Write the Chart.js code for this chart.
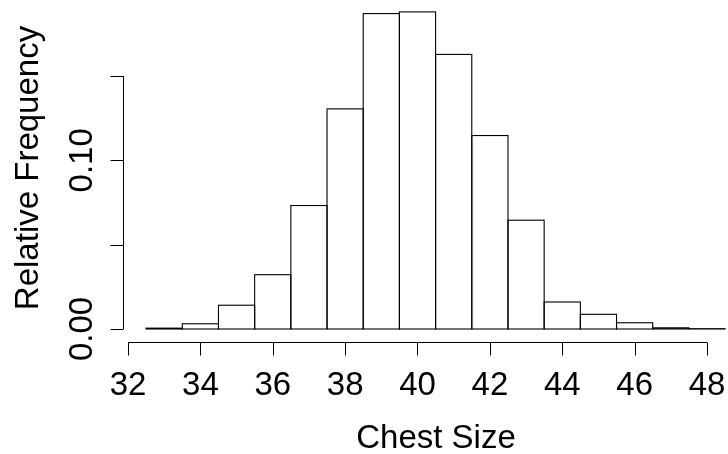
<!DOCTYPE html>
<html>
<head>
<meta charset="utf-8">
<script src="https://cdn.jsdelivr.net/npm/chart.js@4/dist/chart.umd.min.js"></script>
<style>
  html, body { margin: 0; padding: 0; background: #ffffff; }
  #wrap { width: 728px; height: 454px; }
</style>
</head>
<body>
<div id="wrap"><canvas id="c" width="728" height="454"></canvas></div>
<script>
// ---- data (Quetelet chest sizes, relative frequency per 1-inch bin) ----
const chestSizes = [33, 34, 35, 36, 37, 38, 39, 40, 41, 42, 43, 44, 45, 46, 47, 48];
const relFreq = [0.0005, 0.0031, 0.0141, 0.0322, 0.0732, 0.1305, 0.1870, 0.1880,
                 0.1628, 0.1147, 0.0645, 0.0160, 0.0087, 0.0037, 0.0007, 0.0002];
const xTicks = [32, 34, 36, 38, 40, 42, 44, 46, 48];
const xTickLabels = ["32", "34", "36", "38", "40", "42", "44", "46", "48"];
const yTicks = [0, 0.05, 0.10, 0.15];
const yLabelValues = [0, 0.10];
const yLabelTexts = ["0.00", "0.10"];
const xTitle = "Chest Size";
const yTitle = "Relative Frequency";

// ---- layout (pixel calibration of the plot region) ----
const FONT = '33px "Liberation Sans", Arial, Helvetica, sans-serif';
const AREA = { left: 123, right: 728, top: 0, bottom: 342 };
const X_PX = { v0: 32, p0: 128, v1: 48, p1: 707 };
const Y_PX = { v0: 0, p0: 329, v1: 0.15, p1: 76 };
const xPerPx = (X_PX.v1 - X_PX.v0) / (X_PX.p1 - X_PX.p0);
const yPerPx = (Y_PX.v1 - Y_PX.v0) / (Y_PX.p0 - Y_PX.p1);
const xMin = X_PX.v0 - (X_PX.p0 - AREA.left) * xPerPx;
const xMax = X_PX.v0 + (AREA.right - X_PX.p0) * xPerPx;
const yMin = Y_PX.v0 - (AREA.bottom - Y_PX.p0) * yPerPx;
const yMax = Y_PX.v0 + (Y_PX.p0 - AREA.top) * yPerPx;

const outlinePlugin = {
  id: 'outline',
  afterDatasetsDraw(chart) {
    const ctx = chart.ctx;
    const meta = chart.getDatasetMeta(0);
    ctx.save();
    ctx.strokeStyle = '#000000';
    ctx.lineWidth = 1.1;
    meta.data.forEach(el => {
      const p = el.getProps(['x', 'y', 'base', 'width'], true);
      ctx.strokeRect(p.x - p.width / 2, p.y, p.width, p.base - p.y);
    });
    ctx.restore();
  }
};

const axesPlugin = {
  id: 'raxes',
  afterDraw(chart) {
    const ctx = chart.ctx;
    const xs = chart.scales.x, ys = chart.scales.y;
    const ca = chart.chartArea;
    const tick = 13;
    ctx.save();
    ctx.strokeStyle = '#000000';
    ctx.fillStyle = '#000000';
    ctx.lineWidth = 1;
    ctx.font = FONT;

    // x axis
    const ay = Math.round(ca.bottom) + 0.5;
    ctx.beginPath();
    ctx.moveTo(xs.getPixelForValue(xTicks[0]), ay);
    ctx.lineTo(xs.getPixelForValue(xTicks[xTicks.length - 1]), ay);
    xTicks.forEach(v => {
      const px = Math.round(xs.getPixelForValue(v)) + 0.5;
      ctx.moveTo(px, ay);
      ctx.lineTo(px, ay + tick);
    });
    ctx.stroke();
    ctx.textAlign = 'center';
    ctx.textBaseline = 'alphabetic';
    xTicks.forEach((v, i) => {
      ctx.fillText(xTickLabels[i], xs.getPixelForValue(v), 395);
    });

    // y axis
    const ax = Math.round(ca.left) + 0.5;
    ctx.beginPath();
    ctx.moveTo(ax, ys.getPixelForValue(yTicks[0]));
    ctx.lineTo(ax, ys.getPixelForValue(yTicks[yTicks.length - 1]));
    yTicks.forEach(v => {
      const py = Math.round(ys.getPixelForValue(v)) + 0.5;
      ctx.moveTo(ax, py);
      ctx.lineTo(ax - tick, py);
    });
    ctx.stroke();
    yLabelValues.forEach((v, i) => {
      ctx.save();
      ctx.translate(92, ys.getPixelForValue(v));
      ctx.rotate(-Math.PI / 2);
      ctx.fillText(yLabelTexts[i], 0, 0);
      ctx.restore();
    });

    // titles
    ctx.fillText(xTitle, 436, 448);
    ctx.save();
    ctx.translate(38, 168);
    ctx.rotate(-Math.PI / 2);
    ctx.fillText(yTitle, 0, 0);
    ctx.restore();
    ctx.restore();
  }
};

new Chart(document.getElementById('c'), {
  type: 'bar',
  data: {
    labels: chestSizes,
    datasets: [{
      data: chestSizes.map((x, i) => ({ x: x, y: relFreq[i] })),
      backgroundColor: '#ffffff',
      borderWidth: 0,
      barPercentage: 1.0,
      categoryPercentage: 1.0
    }]
  },
  options: {
    responsive: false,
    devicePixelRatio: 1,
    animation: false,
    layout: { padding: { left: AREA.left, right: 728 - AREA.right, top: AREA.top, bottom: 454 - AREA.bottom } },
    plugins: { legend: { display: false }, tooltip: { enabled: false } },
    scales: {
      x: { type: 'linear', min: xMin, max: xMax, offset: false, display: false },
      y: { type: 'linear', min: yMin, max: yMax, display: false }
    }
  },
  plugins: [outlinePlugin, axesPlugin]
});
</script>
</body>
</html>
